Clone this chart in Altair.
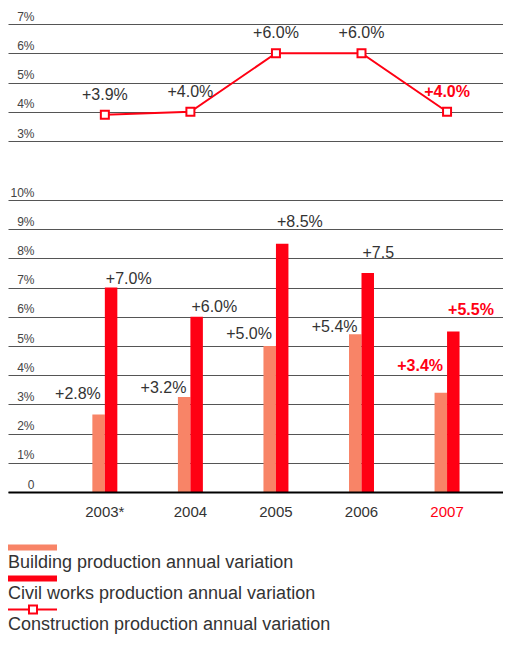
import altair as alt
import pandas as pd

# ---------------- data ----------------
years = ["2003*", "2004", "2005", "2006", "2007"]
highlight_year = "2007"

construction = [3.9, 4.0, 6.0, 6.0, 4.0]
construction_labels = ["+3.9%", "+4.0%", "+6.0%", "+6.0%", "+4.0%"]

building = [2.65, 3.25, 5.0, 5.4, 3.4]
building_labels = ["+2.8%", "+3.2%", "+5.0%", "+5.4%", "+3.4%"]
building_label_at = [3.35, 3.55, 5.4, 5.65, 4.3]

civil = [7.0, 6.0, 8.5, 7.5, 5.5]
civil_labels = ["+7.0%", "+6.0%", "+8.5%", "+7.5", "+5.5%"]
civil_label_at = [7.3, 6.35, 9.25, 8.2, 6.25]

series_kinds = ["Building", "Civil", "Construction"]
series_names = [
    "Building production annual variation",
    "Civil works production annual variation",
    "Construction production annual variation",
]
top_ticks = [3, 4, 5, 6, 7]
bottom_ticks = list(range(0, 11))

RED = "#FF0013"
SALMON = "#F88467"
TEXT = "#333333"
GRID = "#555555"
FONT = "Liberation Sans"
W = 495

# ---------------- tables ----------------
top_df = pd.DataFrame({"year": years, "value": construction, "label": construction_labels})
bars_df = pd.DataFrame({
    "year": years * 2,
    "series": ["Building"] * len(years) + ["Civil"] * len(years),
    "value": building + civil,
})
blab_df = pd.DataFrame({"year": years, "value": building_label_at, "label": building_labels})
clab_df = pd.DataFrame({"year": years, "value": civil_label_at, "label": civil_labels})
legend_df = pd.DataFrame({"kind": series_kinds, "series": series_names})

x_scale = alt.Scale(type="band", paddingInner=0.708, paddingOuter=0.747, align=0.66)
is_hl = alt.datum.year == highlight_year

yaxis_common = dict(
    grid=True, gridColor=GRID, gridWidth=1, domain=False, ticks=False,
    labelAlign="right", labelPadding=-26, labelBaseline="alphabetic",
    labelOffset=-4, labelFontSize=12, labelColor="#444444", title=None,
)

# ---------------- top: construction line ----------------
x_top = alt.X("year:N", sort=years, scale=x_scale, axis=None)
y_top = alt.Y(
    "value:Q",
    scale=alt.Scale(domain=[3, 7]),
    axis=alt.Axis(values=top_ticks, labelExpr="datum.value + '%'", **yaxis_common),
)
base_top = alt.Chart(top_df).encode(x=x_top, y=y_top)
top = alt.layer(
    base_top.mark_line(color=RED, strokeWidth=2),
    base_top.mark_square(size=64, fill="white", stroke=RED, strokeWidth=2, opacity=1),
    base_top.mark_text(dy=-20, fontSize=16, color=TEXT, baseline="middle")
    .encode(text="label:N").transform_filter(~is_hl),
    base_top.mark_text(dy=-20, fontSize=16, color=RED, fontWeight="bold", baseline="middle")
    .encode(text="label:N").transform_filter(is_hl),
).properties(width=W, height=117)

# ---------------- bottom: bars ----------------
x_bot = alt.X(
    "year:N", sort=years, scale=x_scale,
    axis=alt.Axis(
        title=None, labelAngle=0, labelFontSize=15, labelPadding=12,
        labelColor=alt.condition(alt.datum.value == highlight_year, alt.value(RED), alt.value(TEXT)),
        ticks=False, grid=False, domain=True, domainColor="black", domainWidth=2, zindex=1,
    ),
)
y_bot = alt.Y(
    "value:Q",
    scale=alt.Scale(domain=[0, 10]),
    axis=alt.Axis(values=bottom_ticks,
                  labelExpr="datum.value == 0 ? '0' : datum.value + '%'", **yaxis_common),
)
bars = alt.Chart(bars_df).mark_bar().encode(
    x=x_bot,
    xOffset=alt.XOffset("series:N", sort=["Building", "Civil"],
                        scale=alt.Scale(paddingInner=0, paddingOuter=0)),
    y=y_bot,
    color=alt.Color("series:N", scale=alt.Scale(domain=["Building", "Civil"], range=[SALMON, RED]),
                    legend=None),
)
blab = alt.Chart(blab_df).encode(x=x_bot, y=y_bot, text="label:N")
clab = alt.Chart(clab_df).encode(x=x_bot, y=y_bot, text="label:N")
bottom = alt.layer(
    bars,
    blab.mark_text(align="right", dx=-4, fontSize=16, color=TEXT, baseline="middle").transform_filter(~is_hl),
    blab.mark_text(align="right", dx=-4, fontSize=16, color=RED, fontWeight="bold", baseline="middle").transform_filter(is_hl),
    clab.mark_text(align="left", dx=1, fontSize=16, color=TEXT, baseline="middle").transform_filter(~is_hl),
    clab.mark_text(align="left", dx=1, fontSize=16, color=RED, fontWeight="bold", baseline="middle").transform_filter(is_hl),
).properties(width=W, height=292)

# ---------------- legend ----------------
y_leg = alt.Y("series:N", sort=series_names, axis=None,
              scale=alt.Scale(type="point", padding=0, range=[16, 78]))
leg_base = alt.Chart(legend_df).encode(y=y_leg)
legend = alt.layer(
    leg_base.mark_tick(orient="horizontal", thickness=6, size=49, opacity=1).encode(
        x=alt.value(24.5),
        color=alt.Color("kind:N", scale=alt.Scale(domain=["Building", "Civil"], range=[SALMON, RED]), legend=None),
    ).transform_filter(alt.datum.kind != "Construction"),
    leg_base.mark_tick(orient="horizontal", thickness=2, size=49, opacity=1, color=RED)
    .encode(x=alt.value(24.5))
    .transform_filter(alt.datum.kind == "Construction"),
    leg_base.mark_square(size=64, fill="white", stroke=RED, strokeWidth=2, opacity=1)
    .encode(x=alt.value(25)).transform_filter(alt.datum.kind == "Construction"),
    leg_base.mark_text(align="left", baseline="middle", dy=15, fontSize=18, color=TEXT)
    .encode(x=alt.value(0), text="series:N"),
).properties(width=W, height=102)

chart = alt.vconcat(
    alt.vconcat(top, bottom, spacing=45),
    legend,
    spacing=12.5,
).properties(
    padding={"top": 2, "left": 0, "right": 0, "bottom": 0},
).configure(font=FONT).configure_view(stroke=None)

chart.save("out.html", embed_options={"renderer": "svg", "actions": False})
